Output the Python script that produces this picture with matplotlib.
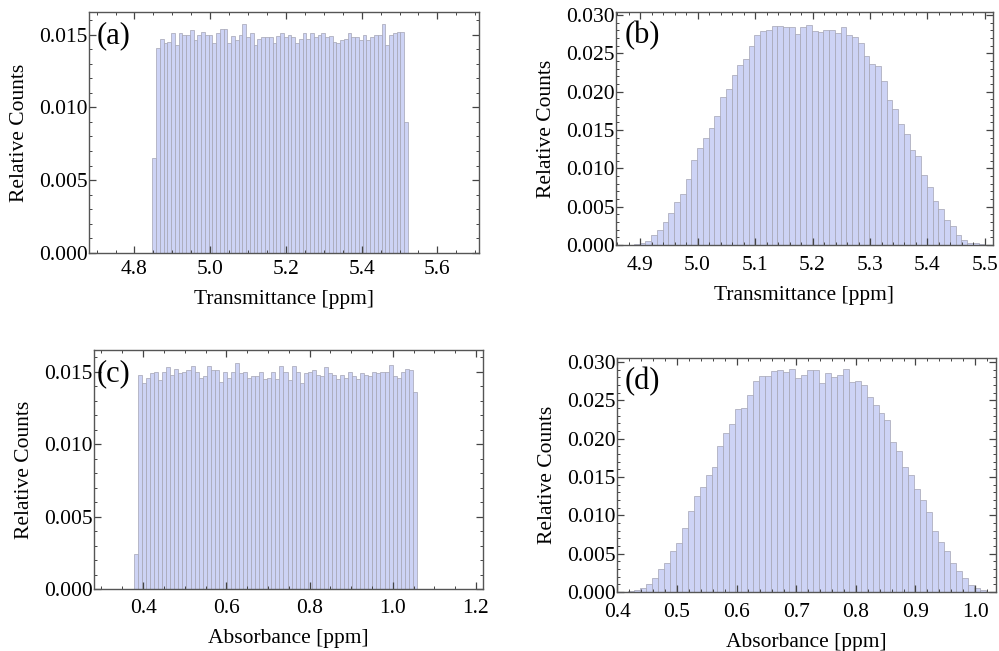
import numpy as np
import matplotlib
matplotlib.use("Agg")
import matplotlib.pyplot as plt
import matplotlib.ticker as ticker

plt.rcParams['font.family'] = ['Liberation Serif', 'DejaVu Serif']

# Histogram data (relative counts per bin) =================================
trans_uniform_range = (4.847, 5.522)
trans_uniform = [0.0065, 0.0141, 0.0147, 0.0144, 0.0145, 0.0151, 0.0143, 0.0151, 0.0150, 0.0150,
                 0.0153, 0.0146, 0.0150, 0.0152, 0.0150, 0.0150, 0.0144, 0.0151, 0.0154, 0.0154,
                 0.0144, 0.0149, 0.0146, 0.0150, 0.0157, 0.0148, 0.0151, 0.0143, 0.0147, 0.0148,
                 0.0148, 0.0148, 0.0144, 0.0149, 0.0151, 0.0148, 0.0150, 0.0148, 0.0144, 0.0147,
                 0.0151, 0.0147, 0.0151, 0.0148, 0.0150, 0.0151, 0.0148, 0.0149, 0.0145, 0.0144,
                 0.0146, 0.0147, 0.0151, 0.0148, 0.0148, 0.0146, 0.0150, 0.0146, 0.0148, 0.0150,
                 0.0150, 0.0157, 0.0143, 0.0150, 0.0151, 0.0152, 0.0152, 0.0090]

trans_peaked_range = (4.889, 5.499)
trans_peaked = [0.0001, 0.0002, 0.0005, 0.0013, 0.0019, 0.0030, 0.0042, 0.0056, 0.0066, 0.0086,
                0.0111, 0.0126, 0.0139, 0.0152, 0.0168, 0.0193, 0.0204, 0.0222, 0.0235, 0.0243,
                0.0259, 0.0274, 0.0279, 0.0280, 0.0286, 0.0286, 0.0285, 0.0284, 0.0275, 0.0284,
                0.0287, 0.0279, 0.0278, 0.0280, 0.0280, 0.0277, 0.0285, 0.0274, 0.0272, 0.0263,
                0.0247, 0.0236, 0.0233, 0.0214, 0.0189, 0.0178, 0.0158, 0.0145, 0.0124, 0.0116,
                0.0091, 0.0075, 0.0058, 0.0047, 0.0032, 0.0025, 0.0013, 0.0007, 0.0003, 0.0002,
                0.0001]

abs_uniform_range = (0.378, 1.058)
abs_uniform = [0.0024, 0.0148, 0.0142, 0.0146, 0.0149, 0.0150, 0.0144, 0.0150, 0.0153, 0.0148,
               0.0152, 0.0149, 0.0150, 0.0151, 0.0154, 0.0150, 0.0146, 0.0147, 0.0154, 0.0151,
               0.0151, 0.0143, 0.0150, 0.0146, 0.0150, 0.0156, 0.0149, 0.0150, 0.0146, 0.0147,
               0.0147, 0.0150, 0.0145, 0.0146, 0.0150, 0.0145, 0.0154, 0.0150, 0.0144, 0.0154,
               0.0150, 0.0142, 0.0149, 0.0150, 0.0151, 0.0148, 0.0147, 0.0153, 0.0149, 0.0148,
               0.0145, 0.0148, 0.0146, 0.0150, 0.0147, 0.0145, 0.0149, 0.0148, 0.0147, 0.0150,
               0.0149, 0.0150, 0.0150, 0.0155, 0.0147, 0.0146, 0.0150, 0.0152, 0.0151, 0.0136]

abs_peaked_range = (0.418, 1.018)
abs_peaked = [0.0001, 0.0003, 0.0005, 0.0010, 0.0018, 0.0030, 0.0038, 0.0054, 0.0064, 0.0083,
              0.0105, 0.0125, 0.0137, 0.0152, 0.0163, 0.0191, 0.0207, 0.0219, 0.0238, 0.0240,
              0.0257, 0.0275, 0.0281, 0.0281, 0.0288, 0.0289, 0.0287, 0.0291, 0.0279, 0.0283,
              0.0290, 0.0289, 0.0272, 0.0286, 0.0280, 0.0283, 0.0291, 0.0274, 0.0275, 0.0270,
              0.0254, 0.0244, 0.0233, 0.0224, 0.0196, 0.0184, 0.0163, 0.0152, 0.0134, 0.0120,
              0.0104, 0.0080, 0.0065, 0.0053, 0.0038, 0.0027, 0.0018, 0.0009, 0.0005, 0.0002]

panel_labels = ['(a)', '(b)', '(c)', '(d)']
xlabels      = ['Transmittance [ppm]', 'Transmittance [ppm]', 'Absorbance [ppm]', 'Absorbance [ppm]']


def draw_hist(ax, heights, xrange_):
    """
    Draw a Mathematica-like histogram from bin heights
    """
    edges = np.linspace(xrange_[0], xrange_[1], len(heights) + 1)
    ax.bar(edges[:-1], heights, width=np.diff(edges), align='edge',
           color='#cdd3f5', edgecolor='#a4a4b4', linewidth=0.5)


def style_frame(ax, xlim, ylim, xmaj, xmin, label, xlabel, lab_x, xpad=6):
    ax.set_xlim(*xlim)
    ax.set_ylim(*ylim)
    ax.xaxis.set_major_locator(ticker.MultipleLocator(xmaj))
    ax.xaxis.set_minor_locator(ticker.MultipleLocator(xmin))
    ax.yaxis.set_major_locator(ticker.MultipleLocator(0.005))
    ax.yaxis.set_minor_locator(ticker.MultipleLocator(0.001))
    ax.xaxis.set_major_formatter(ticker.FormatStrFormatter('%.1f'))
    ax.yaxis.set_major_formatter(ticker.FormatStrFormatter('%.3f'))
    for sp in ax.spines.values():
        sp.set_color('#555555')
        sp.set_linewidth(1.0)
    ax.tick_params(which='both', direction='in', top=True, right=True,
                   color='#444444', labelsize=15.5)
    ax.tick_params(axis='y', pad=1)
    ax.tick_params(axis='x', pad=xpad)
    ax.tick_params(which='major', length=5, width=0.9)
    ax.tick_params(which='minor', length=2.5, width=0.7)
    ax.set_ylabel('Relative Counts', fontsize=15.5, labelpad=7)
    ax.set_xlabel(xlabel, fontsize=15.5, labelpad=8)
    ax.text(lab_x, 0.90, label, transform=ax.transAxes, fontsize=22,
            va='center', ha='left')


fig = plt.figure(figsize=(9.99, 6.51), dpi=100)

rects = [[0.0891, 0.6114, 0.3904, 0.3702],
         [0.6166, 0.6237, 0.3774, 0.3579],
         [0.0941, 0.0952, 0.3894, 0.3671],
         [0.6176, 0.0906, 0.3794, 0.3594]]

ax_a = fig.add_axes(rects[0])
draw_hist(ax_a, trans_uniform, trans_uniform_range)
style_frame(ax_a, (4.68, 5.71), (0, 0.01655), 0.2, 0.05, panel_labels[0], xlabels[0], 0.02, xpad=5)

ax_b = fig.add_axes(rects[1])
draw_hist(ax_b, trans_peaked, trans_peaked_range)
style_frame(ax_b, (4.858, 5.514), (0, 0.0304), 0.1, 0.02, panel_labels[1], xlabels[1], 0.024, xpad=8)

ax_c = fig.add_axes(rects[2])
draw_hist(ax_c, abs_uniform, abs_uniform_range)
style_frame(ax_c, (0.282, 1.217), (0, 0.0165), 0.2, 0.05, panel_labels[2], xlabels[2], 0.008, xpad=7)

ax_d = fig.add_axes(rects[3])
draw_hist(ax_d, abs_peaked, abs_peaked_range)
style_frame(ax_d, (0.3995, 1.035), (0, 0.0305), 0.1, 0.02, panel_labels[3], xlabels[3], 0.021, xpad=8)

fig.savefig('out.png', dpi=100)
